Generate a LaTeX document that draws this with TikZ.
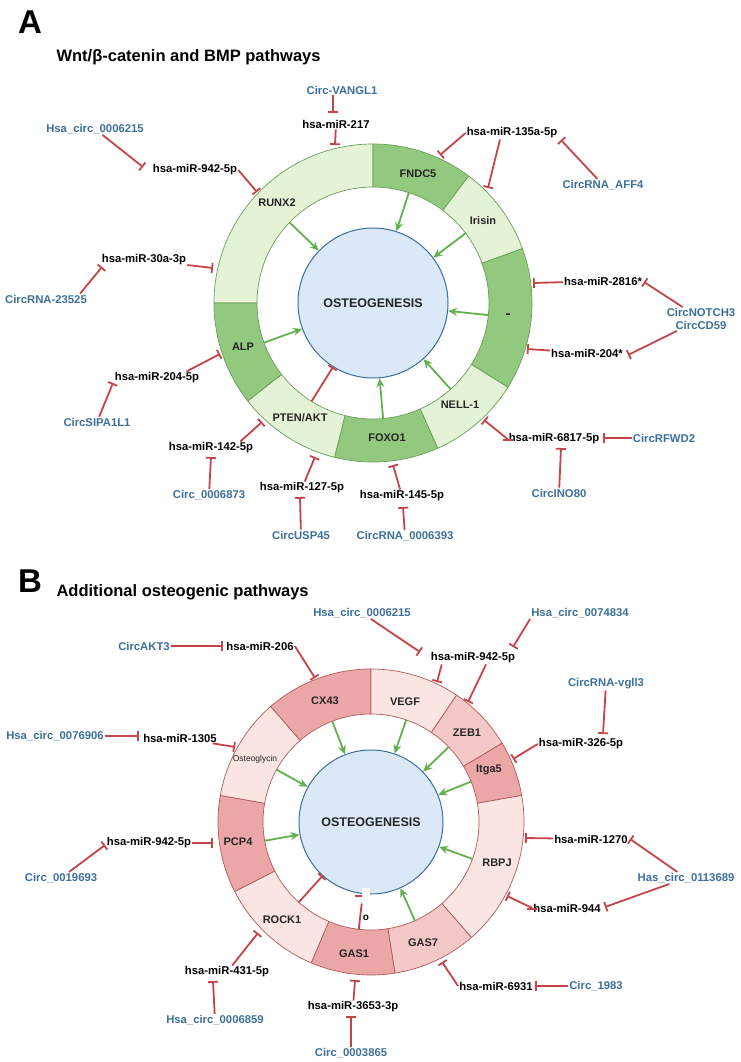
\documentclass[tikz,border=0pt]{standalone}
\usepackage{fontspec}
\setmainfont{Liberation Sans}
\usepackage{tikz}
\usetikzlibrary{arrows.meta,calc}

\definecolor{dkgreen}{HTML}{92C97E}
\definecolor{ltgreen}{HTML}{E4F2D6}
\definecolor{edgegreen}{HTML}{6B9E5A}
\definecolor{dkpink}{HTML}{EBA7A7}
\definecolor{mdpink}{HTML}{F4C8C6}
\definecolor{ltpink}{HTML}{FBE5E3}
\definecolor{edgepink}{HTML}{B05A58}
\definecolor{osteofill}{HTML}{DAE8F8}
\definecolor{osteoedge}{HTML}{3A6E9E}
\definecolor{actgreen}{HTML}{62B14E}
\definecolor{inhred}{HTML}{C4444A}
\definecolor{circblue}{HTML}{3D6F9B}

\begin{document}
\begin{tikzpicture}[x=1pt,y=-1pt,
    inh/.style={draw=inhred,line width=1.8pt,-{Bar[width=10pt]}},
    act/.style={draw=actgreen,line width=1.8pt,-{Stealth[length=9pt,width=8pt]}},
    ringA/.style={draw=edgegreen,line width=0.7pt},
    ringB/.style={draw=edgepink,line width=0.7pt}]
  \tikzstyle{mir}=[font=\bfseries\fontsize{11.3}{13}\selectfont,text=black,inner sep=1pt]
  \tikzstyle{circ}=[font=\bfseries\fontsize{11.3}{13}\selectfont,text=circblue,inner sep=1pt,align=center]
  \tikzstyle{gene}=[font=\bfseries\fontsize{11}{13}\selectfont,text=black!85,inner sep=1pt]
  \tikzstyle{osteo}=[circle,draw=osteoedge,fill=osteofill,line width=1pt,
                     font=\bfseries\fontsize{12.5}{14}\selectfont,text=black!85]

  \useasboundingbox (0,0) rectangle (740,1062);

  %% panel A
  \node[font=\bfseries\fontsize{33}{36}\selectfont] (labA) at (30,22) {A};
  \node[font=\bfseries\fontsize{16.5}{19}\selectfont,anchor=west] (titA) at (53,57) {Wnt/β-catenin and BMP pathways};

  \coordinate (cA) at (373,303);
  \foreach \a/\b/\c in {-180/-90/ltgreen,-90/-53/dkgreen,-53/-20/ltgreen,-20/32/dkgreen,
                        32/66/ltgreen,66/104/dkgreen,104/142/ltgreen,142/180/dkgreen}
    \filldraw[ringA,fill=\c] ($(cA)+(\a:159)$) arc[start angle=\a,end angle=\b,radius=159]
      -- ($(cA)+(\b:116)$) arc[start angle=\b,end angle=\a,radius=116] -- cycle;
  \node[osteo,minimum size=150] (oA) at (cA) {OSTEOGENESIS};

  \node[gene] (runx)  at (277,203) {RUNX2};
  \node[gene] (fndc)  at (418,174) {FNDC5};
  \node[gene] (iris)  at (483,221) {Irisin};
  \node[gene,font=\bfseries\fontsize{15}{16}\selectfont] (minus) at (508,316) {-};
  \node[gene] (nell)  at (460,405) {NELL-1};
  \node[gene] (foxo)  at (387,438) {FOXO1};
  \node[gene] (pten)  at (300,418) {PTEN/AKT};
  \node[gene] (alp)   at (243,347) {ALP};

  \foreach \ang [count=\i] in {-136,-72,-37,6,48,85,160}
    \path (cA) ++(\ang:116) coordinate (gA\i);
  \foreach \i in {1,...,7}
    \draw[act] (gA\i) -- (oA);
  \path (cA) ++(122:116) coordinate (hA);
  \draw[inh] (hA) -- (oA);

  \node[circ] (cVANGL) at (342,90)  {Circ-VANGL1};
  \node[circ] (cA6215) at (95,129)  {Hsa\_circ\_0006215};
  \node[circ] (cAFF4)  at (603,185) {CircRNA\_AFF4};
  \node[circ] (c23525) at (46,299)  {CircRNA-23525};
  \node[circ] (cNOTCH) at (701,319) {CircNOTCH3\\CircCD59};
  \node[circ] (cSIPA)  at (97,422)  {CircSIPA1L1};
  \node[circ] (cRFWD)  at (664,438) {CircRFWD2};
  \node[circ] (c6873)  at (209,495) {Circ\_0006873};
  \node[circ] (cINO)   at (559,493) {CircINO80};
  \node[circ] (cUSP)   at (301,535) {CircUSP45};
  \node[circ] (c6393)  at (405,536) {CircRNA\_0006393};

  \node[mir] (m217)  at (336,124) {hsa-miR-217};
  \node[mir] (mA942) at (195,170) {hsa-miR-942-5p};
  \node[mir] (m135)  at (512,133) {hsa-miR-135a-5p};
  \node[mir] (m30a)  at (144,260) {hsa-miR-30a-3p};
  \node[mir] (m2816) at (603,281) {hsa-miR-2816*};
  \node[mir] (mA204) at (587,353) {hsa-miR-204*};
  \node[mir] (m2045) at (157,378) {hsa-miR-204-5p};
  \node[mir] (m6817) at (554,439) {hsa-miR-6817-5p};
  \node[mir] (m142)  at (211,448) {hsa-miR-142-5p};
  \node[mir] (m127)  at (302,488) {hsa-miR-127-5p};
  \node[mir] (m145)  at (402,496) {hsa-miR-145-5p};

  \coordinate (pVANGL) at (333,113);  \coordinate (p217)   at (335,145);
  \coordinate (p6215)  at (143,167);  \coordinate (pRUNX)  at (257,192);
  \coordinate (pFNDC)  at (440,155);  \coordinate (pIris)  at (488,188);
  \coordinate (pAFF4)  at (561,140);  \coordinate (p30a)   at (213,268);
  \coordinate (p23525) at (102,267);  \coordinate (pALP)   at (220,354);
  \coordinate (pSIPA)  at (113,383);  \coordinate (pPTEN1) at (262,422);
  \coordinate (p6873)  at (211,457);  \coordinate (pPTEN2) at (315,457);
  \coordinate (pUSP)   at (300,497);  \coordinate (pFOXO)  at (393,465);
  \coordinate (p6393)  at (403,507);  \coordinate (pNELL)  at (484,420);
  \coordinate (pINO)   at (561,448);  \coordinate (pRFWD)  at (603,438);
  \coordinate (pMin1)  at (533,283);  \coordinate (p2816)  at (644,282);
  \coordinate (p204s)  at (628,355);  \coordinate (pMin2)  at (527,349);

  \path[inh] ([xshift=-9pt]cVANGL.south) edge (pVANGL)
             (m217)   edge (p217)
             (cA6215) edge (p6215)
             (mA942.east) edge (pRUNX)
             (m135.west)  edge (pFNDC)
             ([xshift=-12pt]m135.south) edge (pIris)
             (cAFF4)  edge (pAFF4)
             (m30a)   edge (p30a)
             ([xshift=-8pt]c23525.north east) edge (p23525)
             ([xshift=-14pt]m2045.north east) edge (pALP)
             (cSIPA)  edge (pSIPA)
             ([xshift=-14pt]m142.north east) edge (pPTEN1)
             (c6873)  edge (p6873)
             (m127)   edge (pPTEN2)
             (cUSP)   edge (pUSP)
             (m145)   edge (pFOXO)
             (c6393)  edge (p6393)
             (m6817.west) edge (pNELL)
             (cINO)   edge (pINO)
             (cRFWD)  edge (pRFWD)
             (m2816)  edge (pMin1)
             (cNOTCH) edge (p2816)
                      edge (p204s)
             (mA204)  edge (pMin2);

  %% panel B
  \node[font=\bfseries\fontsize{33}{36}\selectfont] (labB) at (30,581) {B};
  \node[font=\bfseries\fontsize{16.5}{19}\selectfont,anchor=west] (titB) at (53,592) {Additional osteogenic pathways};

  \coordinate (cB) at (371,822);
  \foreach \a/\b/\c in {-131/-90/dkpink,-90/-56/ltpink,-56/-31/mdpink,-31/-10/dkpink,
                        -10/49/ltpink,49/81/mdpink,81/113/dkpink,113/153/ltpink,
                        153/190/dkpink,190/229/ltpink}
    \filldraw[ringB,fill=\c] ($(cB)+(\a:153)$) arc[start angle=\a,end angle=\b,radius=153]
      -- ($(cB)+(\b:108)$) arc[start angle=\b,end angle=\a,radius=108] -- cycle;
  \node[osteo,minimum size=144] (oB) at (cB) {OSTEOGENESIS};

  \node[gene] (cx43)  at (325,701) {CX43};
  \node[gene] (vegf)  at (405,702) {VEGF};
  \node[gene] (zeb)   at (467,733) {ZEB1};
  \node[gene] (itga)  at (489,770) {Itga5};
  \node[gene] (rbpj)  at (497,863) {RBPJ};
  \node[gene] (gas7)  at (423,943) {GAS7};
  \node[gene] (gas1)  at (354,954) {GAS1};
  \node[gene] (rock)  at (282,920) {ROCK1};
  \node[gene] (pcp4)  at (238,842) {PCP4};
  \node[gene,font=\fontsize{8.5}{10}\selectfont] (ogly) at (255,759) {Osteoglycin};

  \foreach \ang [count=\i] in {-111,-71,-44,-22,20,66,-151,170}
    \path (cB) ++(\ang:108) coordinate (gB\i);
  \foreach \i in {1,...,8}
    \draw[act] (gB\i) -- (oB);
  \path (cB) ++(132:108) coordinate (hB);
  \draw[inh] (hB) -- (oB);
  \path (cB) ++(96.5:108) coordinate (kB1) (cB) ++(96.5:82) coordinate (kB2);
  \draw[inhred,line width=1.8pt] (kB1) -- (kB2);
  \draw[inhred,line width=1.5pt] (355,896) -- (362,896);
  \fill[white] (362,888) rectangle (370,898);
  \node[font=\bfseries\fontsize{10}{12}\selectfont,inner sep=0pt] (omark) at (366,918) {o};

  \node[circ] (cAKT3)   at (144,646)  {CircAKT3};
  \node[circ] (cB6215)  at (362,613)  {Hsa\_circ\_0006215};
  \node[circ] (c74834)  at (580,613)  {Hsa\_circ\_0074834};
  \node[circ] (cvgll)   at (606,684)  {CircRNA-vgll3};
  \node[circ] (c76906)  at (55,736)   {Hsa\_circ\_0076906};
  \node[circ] (c19693)  at (61,878)   {Circ\_0019693};
  \node[circ] (c113689) at (686,878)  {Has\_circ\_0113689};
  \node[circ] (c1983)   at (596,986)  {Circ\_1983};
  \node[circ] (c6859)   at (215,1020) {Hsa\_circ\_0006859};
  \node[circ] (c3865)   at (351,1053) {Circ\_0003865};

  \node[mir] (m206)  at (260,646)  {hsa-miR-206};
  \node[mir] (mB942) at (473,658)  {hsa-miR-942-5p};
  \node[mir] (m326)  at (581,744)  {hsa-miR-326-5p};
  \node[mir] (m1305) at (180,738)  {hsa-miR-1305};
  \node[mir] (mC942) at (149,843)  {hsa-miR-942-5p};
  \node[mir] (m1270) at (591,839)  {hsa-miR-1270};
  \node[mir] (m944)  at (567,908)  {hsa-miR-944};
  \node[mir] (m431)  at (227,972)  {hsa-miR-431-5p};
  \node[mir] (m6931) at (496,986)  {hsa-miR-6931};
  \node[mir] (m3653) at (353,1007) {hsa-miR-3653-3p};

  \coordinate (pAKT3)  at (223,646);  \coordinate (pCX43)  at (315,678);
  \coordinate (p1305)  at (139,736);  \coordinate (pOgly)  at (235,747);
  \coordinate (pB6215) at (420,652);  \coordinate (p74834) at (513,647);
  \coordinate (pVEGF)  at (437,682);  \coordinate (pZEB)   at (468,702);
  \coordinate (pvgll)  at (603,734);  \coordinate (pItga)  at (513,759);
  \coordinate (pPCP4)  at (213,843);  \coordinate (p19693) at (105,845);
  \coordinate (pROCK)  at (258,933);  \coordinate (p6859)  at (213,981);
  \coordinate (pGAS1)  at (355,980);  \coordinate (p3865)  at (351,1016);
  \coordinate (pGAS7)  at (442,962);  \coordinate (p1983)  at (535,986);
  \coordinate (pRBPJ1) at (525,838);  \coordinate (pRBPJ2) at (507,896);
  \coordinate (p1270)  at (630,839);  \coordinate (p944)   at (605,907);

  \path[inh] (cAKT3)  edge (pAKT3)
             (m206.east) edge (pCX43)
             (c76906) edge (p1305)
             (m1305)  edge (pOgly)
             (cB6215) edge (pB6215)
             (c74834.south west) edge (p74834)
             ([xshift=12pt]mB942.south west) edge (pVEGF)
             ([xshift=13pt]mB942.south) edge (pZEB)
             (cvgll)  edge (pvgll)
             (m326.west) edge (pItga)
             (mC942)  edge (pPCP4)
             (c19693) edge (p19693)
             (m431)   edge (pROCK)
             (c6859)  edge (p6859)
             (m3653)  edge (pGAS1)
             (c3865)  edge (p3865)
             (m6931.west) edge (pGAS7)
             (c1983)  edge (p1983)
             (m1270)  edge (pRBPJ1)
             (m944.west) edge (pRBPJ2)
             (c113689) edge (p1270)
                       edge (p944);
\end{tikzpicture}
\end{document}
